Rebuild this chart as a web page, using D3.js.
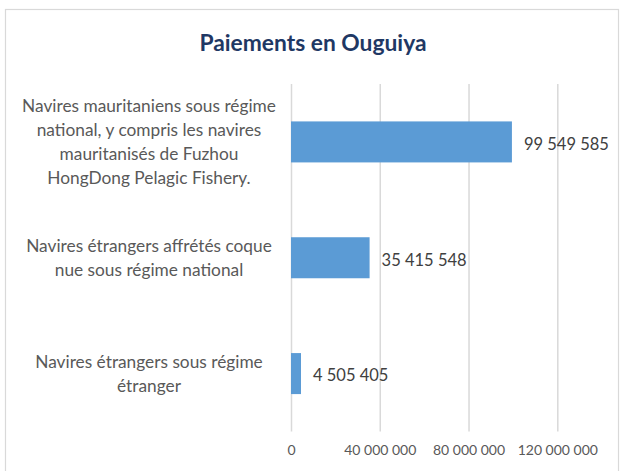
<!DOCTYPE html>
<html>
<head>
<meta charset="utf-8">
<script src="https://cdn.jsdelivr.net/npm/d3@7"></script>
<style>
  body { margin: 0; background: #fff; }
  svg { display: block; font-family: Lato, "Open Sans", sans-serif; }
</style>
</head>
<body>
<svg id="chart" width="620" height="471"></svg>
<script>
// data
const categories = [
  "Navires mauritaniens sous régime national, y compris les navires mauritanisés de Fuzhou HongDong Pelagic Fishery.",
  "Navires étrangers affrétés coque nue sous régime national",
  "Navires étrangers sous régime étranger",
];
const categoryLines = [
  ["Navires mauritaniens sous régime", "national, y compris les navires", "mauritanisés de Fuzhou", "HongDong Pelagic Fishery."],
  ["Navires étrangers affrétés coque", "nue sous régime national"],
  ["Navires étrangers sous régime", "étranger"],
];
const values = [99549585, 35415548, 4505405];
const tickValues = [0, 40000000, 80000000, 120000000];
const title = "Paiements en Ouguiya";

const svg = d3.select("#chart");
const W = 620, H = 471;
const plot = { left: 291, right: 557.3, top: 84, bottom: 431.5 };

const locale = d3.formatLocale({ decimal: ",", thousands: " ", grouping: [3], currency: ["", ""] });
const fmt = locale.format(",d");

// frame
svg.append("rect")
  .attr("x", 5.5).attr("y", 9.5)
  .attr("width", 613).attr("height", 500)
  .attr("fill", "#fff")
  .attr("stroke", "#D9D9D9")
  .attr("stroke-width", 1.2);

// title
svg.append("text")
  .attr("x", W / 2 + 3)
  .attr("y", 51)
  .attr("text-anchor", "middle")
  .attr("font-size", 22.8)
  .attr("font-weight", "bold")
  .attr("fill", "#1F3864")
  .text(title);

const x = d3.scaleLinear().domain([0, 120000000]).range([plot.left, plot.right]);
const y = d3.scaleBand().domain(categories).range([plot.top, plot.bottom]).paddingInner(0.646).paddingOuter(0.323);

// x axis + gridlines
const axis = svg.append("g")
  .attr("class", "x-axis")
  .attr("transform", `translate(0,${plot.bottom})`)
  .call(
    d3.axisBottom(x)
      .tickValues(tickValues)
      .tickSize(-(plot.bottom - plot.top))
      .tickPadding(14)
      .tickFormat(fmt)
  );
axis.select(".domain").remove();
axis.selectAll(".tick line")
  .attr("stroke", "#D9D9D9")
  .attr("stroke-width", 1.5);
axis.selectAll(".tick text")
  .attr("fill", "#595959")
  .attr("font-size", 14)
  .attr("font-family", "Lato, sans-serif");

// bars
svg.append("g")
  .attr("class", "bars")
  .selectAll("rect")
  .data(values)
  .enter()
  .append("rect")
  .attr("x", x(0))
  .attr("y", (d, i) => y(categories[i]))
  .attr("width", (d) => x(d) - x(0))
  .attr("height", y.bandwidth())
  .attr("fill", "#5B9BD5");

// value labels
svg.append("g")
  .attr("class", "value-labels")
  .selectAll("text")
  .data(values)
  .enter()
  .append("text")
  .attr("x", (d) => x(d) + 12)
  .attr("y", (d, i) => y(categories[i]) + y.bandwidth() / 2 + 2)
  .attr("dy", "0.35em")
  .attr("fill", "#404040")
  .attr("font-size", 16.5)
  .text((d) => fmt(d));

// category labels
const lineH = 24;
const cat = svg.append("g").attr("class", "cat-labels");
categoryLines.forEach((lines, i) => {
  const cy = y(categories[i]) + y.bandwidth() / 2;
  const y0 = cy - ((lines.length - 1) * lineH) / 2;
  cat.append("text")
    .attr("text-anchor", "middle")
    .attr("fill", "#595959")
    .attr("font-size", 17.3)
    .selectAll("tspan")
    .data(lines)
    .enter()
    .append("tspan")
    .attr("x", 149)
    .attr("y", (d, j) => y0 + j * lineH)
    .attr("dy", "0.35em")
    .text((d) => d);
});
</script>
</body>
</html>
